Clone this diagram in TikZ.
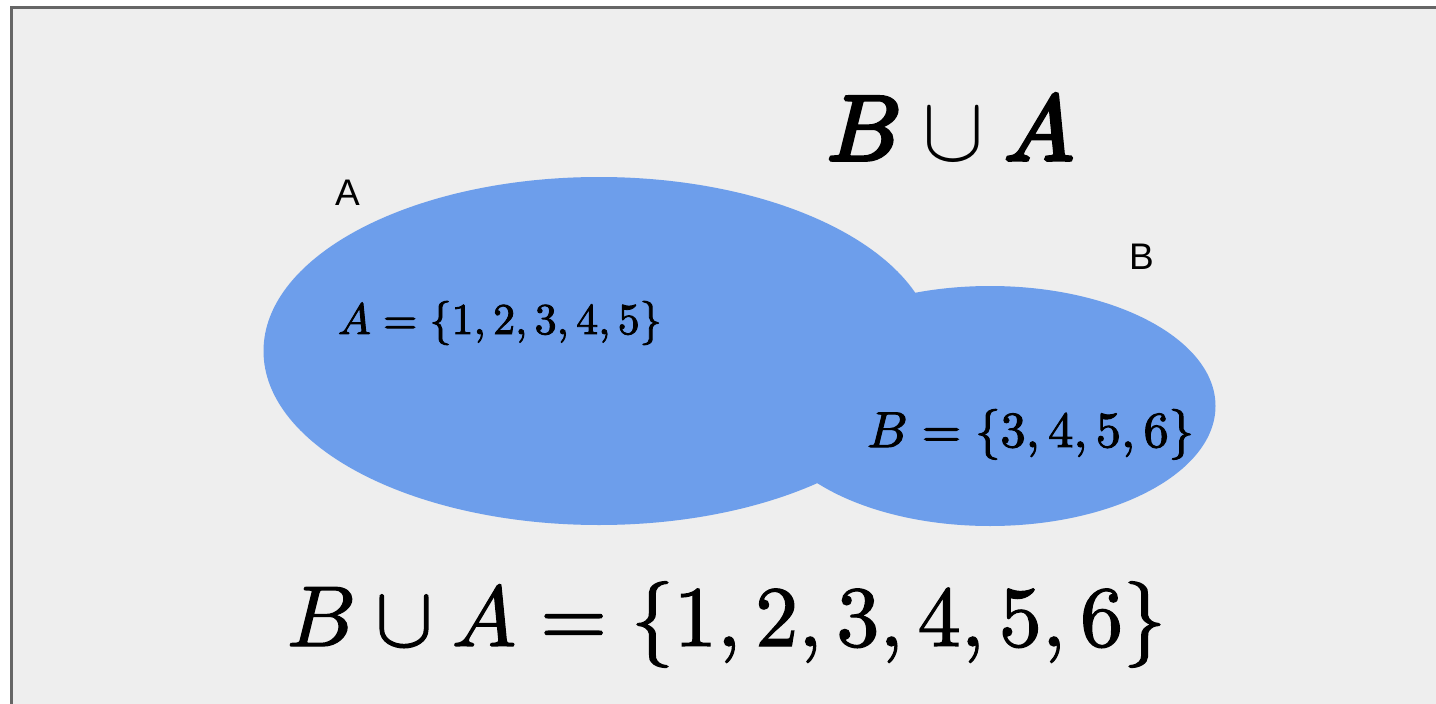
\documentclass[tikz,border=0pt]{standalone}
\usepackage{amsmath}
\usepackage[no-math]{fontspec}
\newfontfamily\labelfont{Liberation Sans}
\definecolor{setblue}{HTML}{6D9EEB}
\definecolor{panel}{HTML}{EEEEEE}
\definecolor{frame}{HTML}{666666}
\newcommand{\heavytext}[2]{\special{pdf:literal direct q 2 Tr #1 w}#2\special{pdf:literal direct Q}}
\tikzset{
  mathtxt/.style={inner sep=0pt, anchor=base west},
  lbl/.style={inner sep=0pt, anchor=base west, font=\labelfont\fontsize{37}{40}\selectfont}
}
\begin{document}
\begin{tikzpicture}[x=1pt,y=-1pt]
\useasboundingbox (0,0) rectangle (1436,704);
\fill[white] (0,0) rectangle (1436,704);
\fill[panel] (12,8) rectangle (1436,704);
\draw[frame, line width=2.5pt] (11.5,704) -- (11.5,7.5) -- (1436,7.5);
\fill[setblue] (599,351) ellipse [x radius=335.5, y radius=174];
\fill[setblue] (990,406) ellipse [x radius=225.5, y radius=120];
\node[lbl] (la) at (335,205) {A};
\node[lbl] (lb) at (1129,269) {B};
\node[mathtxt, scale=4.4] (seta) at (337,334) {\heavytext{0.2}{$A=\{1,2,3,4,5\}$}};
\node[mathtxt, scale=5.05] (setb) at (866,447) {\heavytext{0.2}{$B=\{3,4,5,6\}$}};
\node[mathtxt, scale=9.25] (title) at (825,160) {$\heavytext{0.4}{B}\cup\heavytext{0.4}{A}$};
\node[mathtxt, scale=8.6] (union) at (285,646) {\heavytext{0.15}{$B\cup A=\{1,2,3,4,5,6\}$}};
\end{tikzpicture}
\end{document}
